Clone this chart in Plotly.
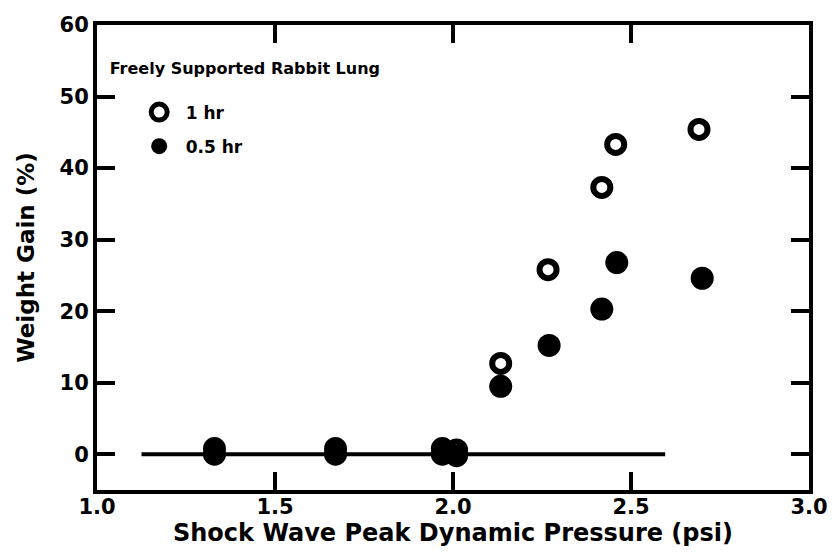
import plotly.graph_objects as go

# Shock wave peak dynamic pressure (psi) and lung weight gain (%)
pressure_1hr = [1.33, 1.67, 1.97, 2.01, 2.134, 2.267, 2.418, 2.457, 2.691]
gain_1hr = [0.8, 0.8, 0.8, 0.6, 12.7, 25.8, 37.3, 43.3, 45.4]

pressure_05hr = [1.33, 1.67, 1.97, 2.01, 2.134, 2.27, 2.418, 2.46, 2.70]
gain_05hr = [0.0, 0.0, 0.0, -0.2, 9.5, 15.2, 20.3, 26.8, 24.6]

# Zero-gain reference line
baseline_x = [1.125, 2.596]
baseline_y = [0, 0]

x_ticks = [1.0, 1.5, 2.0, 2.5, 3.0]
x_ticklabels = ["1.0", "1.5", "2.0", "2.5", "3.0"]
y_ticks = [0, 10, 20, 30, 40, 50, 60]
y_ticklabels = ["0", "10", "20", "30", "40", "50", "60"]

FONT = "DejaVu Sans"

fig = go.Figure()

fig.add_trace(go.Scatter(
    x=baseline_x, y=baseline_y, mode="lines",
    line=dict(color="black", width=4),
    showlegend=False, hoverinfo="skip",
))

fig.add_trace(go.Scatter(
    x=pressure_1hr, y=gain_1hr, mode="markers", name="1 hr",
    legendgroup="a",
    marker=dict(symbol="circle-open", size=17, color="black",
                line=dict(color="black", width=6)),
))

fig.add_trace(go.Scatter(
    x=pressure_05hr, y=gain_05hr, mode="markers", name="0.5 hr",
    legendgroup="b",
    marker=dict(symbol="circle", size=23, color="black"),
))

axis_common = dict(
    showline=True, linecolor="black", linewidth=4, mirror="ticks",
    ticks="inside", ticklen=18, tickwidth=4, tickcolor="black",
    showgrid=False, zeroline=False,
    tickfont=dict(family=FONT, size=21, color="black", weight="bold"),
)

fig.update_xaxes(
    range=[1.0, 3.0], tickvals=x_ticks, ticktext=x_ticklabels,
    ticklabelstandoff=-5,
    title=dict(text="Shock Wave Peak Dynamic Pressure (psi)",
               font=dict(family=FONT, size=24, color="black", weight="bold"),
               standoff=0),
    **axis_common,
)
fig.update_yaxes(
    range=[-5, 60], tickvals=y_ticks, ticktext=y_ticklabels,
    title=dict(text="Weight Gain (%)",
               font=dict(family=FONT, size=23, color="black", weight="bold"),
               standoff=20),
    **axis_common,
)

fig.update_layout(
    width=840, height=554,
    margin=dict(l=97, r=25, t=25, b=64),
    paper_bgcolor="white", plot_bgcolor="white",
    legend=dict(
        x=0.015, y=0.94, xanchor="left", yanchor="top",
        bgcolor="rgba(0,0,0,0)",
        title=dict(text="Freely Supported Rabbit Lung<br> ",
                   font=dict(family=FONT, size=16, color="black", weight="bold")),
        font=dict(family=FONT, size=17, color="black", weight="bold"),
        indentation=25, tracegroupgap=9, itemsizing="trace", itemwidth=43,
    ),
)

fig.write_html("out.html")
